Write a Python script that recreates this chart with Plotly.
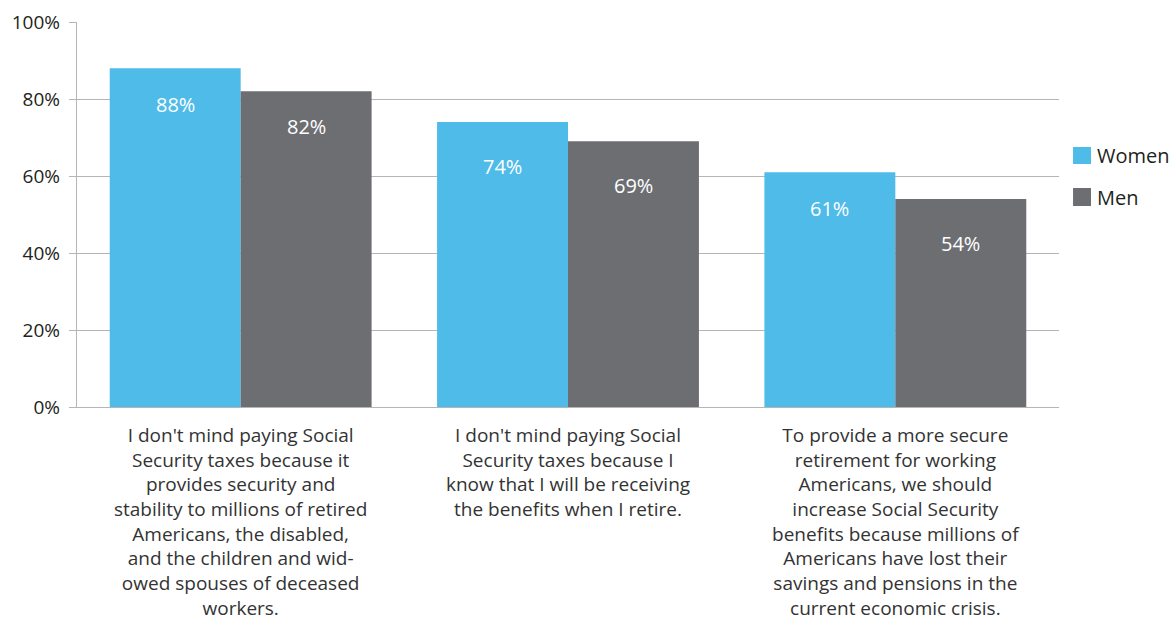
import plotly.graph_objects as go

# Survey statements (one entry per line of the wrapped axis label)
statements = [
    ["I don't mind paying Social", "Security taxes because it", "provides security and",
     "stability to millions of retired", "Americans, the disabled,",
     "and the children and wid-", "owed spouses of deceased", "workers."],
    ["I don't mind paying Social", "Security taxes because I",
     "know that I will be receiving", "the benefits when I retire."],
    ["To provide a more secure", "retirement for working", "Americans, we should",
     "increase Social Security", "benefits because millions of",
     "Americans have lost their", "savings and pensions in the",
     "current economic crisis."],
]
women = [88, 74, 61]
men = [82, 69, 54]
y_ticks = [0, 20, 40, 60, 80, 100]

series_names = ["Women", "Men"]
series_colors = ["#4FBBE9", "#6D6E72"]

FONT = "Open Sans"
GRID = "#B5B5B5"

positions = list(range(len(statements)))
tick_text = ["<br>".join(lines) for lines in statements]

fig = go.Figure()
for name, vals, color in zip(series_names, [women, men], series_colors):
    fig.add_trace(go.Bar(
        x=positions, y=vals, name=name, marker=dict(color=color, line=dict(width=0)),
        showlegend=False, hoverinfo="skip",
    ))

# Value labels drawn in white near the top of each bar
label_drop = [[36, 35], [44, 44], [36, 44]]
half = 0.4 * 0.5
annotations = []
for i in positions:
    for j, vals in enumerate([women, men]):
        annotations.append(dict(
            x=i - half if j == 0 else i + half, y=vals[i], xref="x", yref="y",
            text=f"{vals[i]}%", showarrow=False, yshift=-label_drop[i][j],
            font=dict(family=FONT, size=20, color="white"),
        ))

# Legend drawn as swatches with text at the right of the plot
shapes = []
legend_rows = [(0.6753, 0.6312), (0.5688, 0.5221)]
for (y_top, y_bot), name, color in zip(legend_rows, series_names, series_colors):
    shapes.append(dict(type="rect", xref="paper", yref="paper",
                       x0=1.0143, x1=1.0326, y0=y_bot, y1=y_top,
                       fillcolor=color, line=dict(width=0)))
    annotations.append(dict(x=1.0367, y=(y_top + y_bot) / 2, xref="paper", yref="paper",
                            xanchor="left", yanchor="middle", showarrow=False,
                            text=name, font=dict(family=FONT, size=20, color="#231F20")))

fig.update_layout(
    width=1176, height=620,
    margin=dict(l=77, r=117, t=22, b=213),
    paper_bgcolor="white", plot_bgcolor="white",
    barmode="group", bargap=0.2, bargroupgap=0,
    font=dict(family=FONT),
    annotations=annotations, shapes=shapes,
    xaxis=dict(
        tickmode="array", tickvals=positions, ticktext=tick_text,
        range=[-0.5, len(statements) - 0.5], automargin=False,
        showgrid=False, zeroline=False, showline=True, linecolor=GRID, linewidth=1.3,
        ticks="", tickfont=dict(family=FONT, size=19, color="#333333"),
        ticklabelstandoff=11,
    ),
    yaxis=dict(
        range=[0, 100], tickmode="array", tickvals=y_ticks, automargin=False,
        ticktext=[f"{v}%" for v in y_ticks],
        showgrid=True, gridcolor=GRID, gridwidth=1.3,
        zeroline=False, showline=True, linecolor=GRID, linewidth=1.3,
        ticks="outside", ticklen=7, tickcolor=GRID, tickwidth=1.3,
        tickfont=dict(family=FONT, size=19, color="#231F20"),
        ticklabelstandoff=5,
    ),
)

fig.write_html("out.html")
